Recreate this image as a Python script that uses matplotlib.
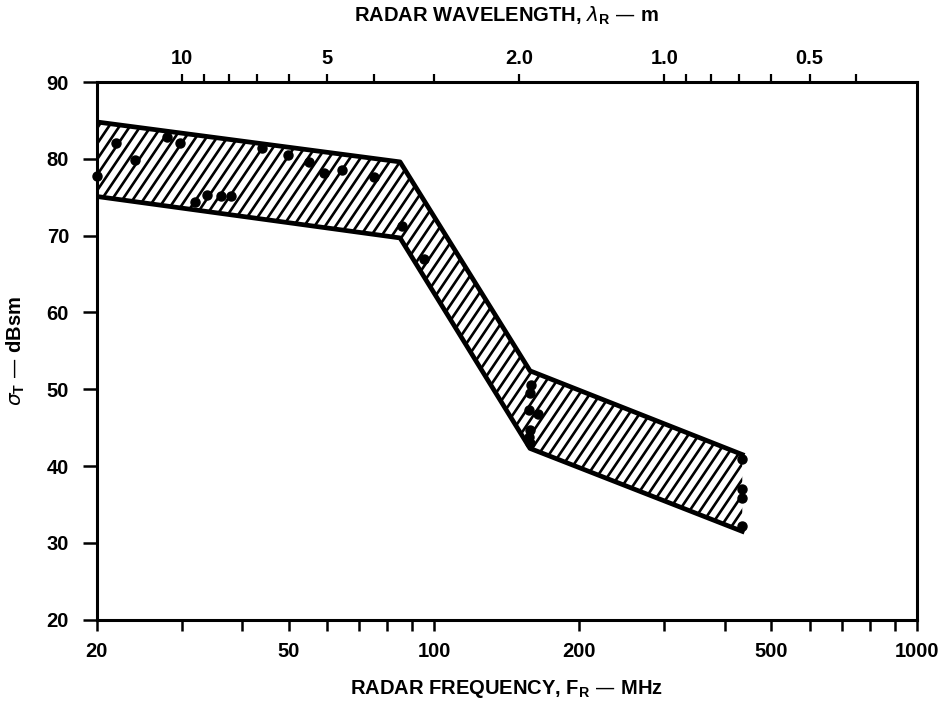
import numpy as np
import matplotlib
matplotlib.use("Agg")
import matplotlib.pyplot as plt
from matplotlib.collections import LineCollection
from matplotlib.patches import Polygon
from matplotlib.ticker import FixedLocator, NullFormatter

plt.rcParams["font.family"] = ["Liberation Sans", "DejaVu Sans"]

# envelope of measured RCS vs frequency (MHz, dBsm)
band_freq = [20, 85, 158, 435]
band_upper = [84.8, 79.6, 52.4, 41.5]
band_lower = [75.1, 69.7, 42.3, 31.5]

# measured points
pt_freq = [20, 21.9, 24.0, 27.9, 29.7, 31.9, 33.8, 36.2, 37.9, 44.0, 49.8, 55.1,
           59.2, 64.4, 74.9, 85.6, 95.5,
           159, 158, 157, 164, 158, 157, 158,
           435, 435, 435, 434]
pt_rcs = [77.7, 82.0, 79.9, 82.9, 82.0, 74.4, 75.3, 75.2, 75.1, 81.4, 80.5, 79.6,
          78.2, 78.5, 77.6, 71.2, 66.9,
          50.6, 49.5, 47.3, 46.8, 44.7, 43.8, 43.0,
          40.9, 37.0, 35.9, 32.2]

freq_ticks = [20, 50, 100, 200, 500, 1000]
freq_minor = [30, 40, 60, 70, 80, 90, 300, 400, 600, 700, 800, 900]
wl_major = [10, 5, 2.0, 1.0, 0.5]
wl_labels = ["10", "5", "2.0", "1.0", "0.5"]
wl_minor = [9, 8, 7, 6, 4, 3, 0.9, 0.8, 0.7, 0.6, 0.4]

C = 300.0  # lambda[m] = 300 / f[MHz]

W, H = 949, 701
fig = plt.figure(figsize=(W / 100, H / 100), dpi=100)
ax_rect = [0.102, 0.116, 0.864, 0.767]
ax = fig.add_axes(ax_rect)
ax.set_xscale("log")
ax.set_xlim(20, 1000)
ax.set_ylim(20, 90)

# hatched band: polygon used as clip path for slanted hatch lines
poly_x = band_freq + band_freq[::-1]
poly_y = band_upper + band_lower[::-1]
band = Polygon(np.column_stack([poly_x, poly_y]), closed=True,
               facecolor="white", edgecolor="none", transform=ax.transData)
ax.add_patch(band)

pw, ph = ax_rect[2] * W, ax_rect[3] * H   # axes size in pixels
step, angle = 10.5, np.deg2rad(56)
dx = ph / np.tan(angle)
starts = np.arange(-dx, pw + step, step)
segs = [[(x0 / pw, 0), ((x0 + dx) / pw, 1)] for x0 in starts]
hatch = LineCollection(segs, colors="black", linewidths=1.9, transform=ax.transAxes)
ax.add_collection(hatch)
hatch.set_clip_path(band)

ax.plot(band_freq, band_upper, color="black", linewidth=3.4, solid_joinstyle="round")
ax.plot(band_freq, band_lower, color="black", linewidth=3.4, solid_joinstyle="round")
ax.plot(pt_freq, pt_rcs, "o", color="black", markersize=6.5, zorder=3, clip_on=False)

ax.xaxis.set_major_locator(FixedLocator(freq_ticks))
ax.xaxis.set_minor_locator(FixedLocator(freq_minor))
ax.xaxis.set_minor_formatter(NullFormatter())
ax.set_xticklabels([str(t) for t in freq_ticks])
ax.set_yticks(range(20, 91, 10))

ax.tick_params(axis="both", which="both", direction="out", width=1.8,
               labelsize=14.5, top=False, right=False)
ax.tick_params(axis="x", which="both", length=8, pad=8)
ax.tick_params(axis="y", which="major", length=10, pad=10)
for lab in ax.get_xticklabels() + ax.get_yticklabels():
    lab.set_fontweight("bold")
for sp in ax.spines.values():
    sp.set_linewidth(2.2)

ax.set_xlabel(r"RADAR FREQUENCY, F$_\mathregular{R}$ — MHz", fontsize=14.5,
              fontweight="bold", labelpad=12)
ax.set_ylabel(r"$\sigma_\mathregular{T}$ — dBsm", fontsize=14.5,
              fontweight="bold", labelpad=14)

# wavelength scale along the top
top = ax.twiny()
top.set_xscale("log")
top.set_xlim(20, 1000)
top.xaxis.set_major_locator(FixedLocator([C / w for w in wl_major]))
top.xaxis.set_minor_locator(FixedLocator([C / w for w in wl_minor]))
top.xaxis.set_minor_formatter(NullFormatter())
top.set_xticklabels(wl_labels)
top.tick_params(axis="x", which="both", direction="out", length=6, width=1.6,
                labelsize=14.5, pad=4)
for lab in top.get_xticklabels():
    lab.set_fontweight("bold")
for sp in top.spines.values():
    sp.set_visible(False)
top.set_xlabel(r"RADAR WAVELENGTH, $\lambda_\mathregular{R}$ — m", fontsize=14.5,
               fontweight="bold", labelpad=20)

fig.savefig("out.png", dpi=100)
